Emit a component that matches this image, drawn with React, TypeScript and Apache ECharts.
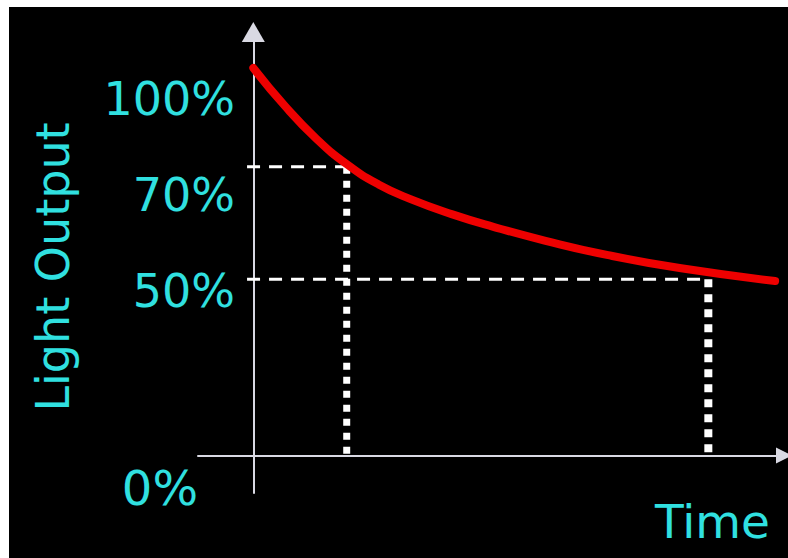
import React, { useEffect, useRef } from "react";
import * as echarts from "echarts";

// Schematic lumen-depreciation curve (units are schematic chart units)
const timeValues = [0, 6, 12, 18, 24, 30, 38, 46, 56, 68, 82, 100];
const outputValues = [91.5, 82.6, 74.9, 68.7, 64.0, 60.6, 57.0, 54.0, 50.7, 47.3, 44.2, 41.2];

// Y tick labels and where they sit on the schematic scale
const yTickValues = [84.2, 61.5, 38.8, -7.7];
const yTickLabels = ["100%", "70%", "50%", "0%"];

// L70 and L50 reference points
const markerTimes = [17.9, 87.2];
const markerLevels = [68.2, 41.6];
const guideStart = -1.2;

const xAxisName = "Time";
const yAxisName = "Light Output";

const CYAN = "#30e0e0";
const AXIS = "#d9d9e3";
const FONT = "DejaVu Sans";

export default function App() {
  const ref = useRef<HTMLDivElement>(null);

  useEffect(() => {
    if (!ref.current) return;
    const chart = echarts.init(ref.current, null, { renderer: "svg" });

    const curve = timeValues.map((t, i) => [t, outputValues[i]]);

    const guideSeries: any[] = [];
    markerTimes.forEach((t, i) => {
      const lvl = markerLevels[i];
      guideSeries.push({
        type: "line",
        data: [
          [guideStart, lvl],
          [t, lvl],
        ],
        symbol: "none",
        silent: true,
        z: 2,
        lineStyle: { color: "#ffffff", width: 3, type: [13, 9] },
      });
      guideSeries.push({
        type: "line",
        data: [
          [t, lvl],
          [t, 0],
        ],
        symbol: "none",
        silent: true,
        z: 2,
        lineStyle: { color: "#ffffff", width: 7 + i, type: [7 + i, 7], cap: "butt" },
      });
    });

    const option: any = {
      animation: false,
      backgroundColor: "#000000",
      grid: {
        left: 189,
        right: 4,
        top: 25,
        bottom: 65,
        containLabel: false,
        outerBoundsMode: "none",
      },
      xAxis: {
        type: "value",
        min: -10.6,
        max: 101.7,
        axisLine: {
          show: true,
          onZero: true,
          symbol: ["none", "triangle"],
          symbolSize: [16, 16],
          lineStyle: { color: AXIS, width: 2 },
        },
        axisTick: { show: false },
        axisLabel: { show: false },
        splitLine: { show: false },
        name: xAxisName,
        nameLocation: "end",
        nameGap: -129,
        nameTextStyle: {
          color: CYAN,
          fontSize: 47,
          fontFamily: FONT,
          verticalAlign: "top",
          padding: [42, 0, 0, 0],
        },
      },
      yAxis: {
        type: "value",
        min: -8.85,
        max: 100,
        axisLine: {
          show: true,
          onZero: true,
          symbol: ["none", "triangle"],
          symbolSize: [23, 20],
          lineStyle: { color: AXIS, width: 2 },
        },
        axisTick: { show: false },
        splitLine: { show: false },
        axisLabel: {
          show: true,
          customValues: yTickValues,
          margin: -37,
          color: CYAN,
          fontSize: 46,
          fontFamily: FONT,
          formatter: (v: number) => {
            let idx = 0;
            let best = Infinity;
            yTickValues.forEach((tv, i) => {
              const d = Math.abs(tv - v);
              if (d < best) {
                best = d;
                idx = i;
              }
            });
            const label = yTickLabels[idx];
            return idx === yTickLabels.length - 1 ? `{z|${label}}` : label;
          },
          rich: {
            z: {
              color: CYAN,
              fontSize: 48,
              fontFamily: FONT,
              padding: [0, 37, 0, 0],
            },
          },
        },
        name: yAxisName,
        nameLocation: "middle",
        nameRotate: 90,
        nameGap: 122,
        nameTextStyle: {
          color: CYAN,
          fontSize: 46,
          fontFamily: FONT,
          padding: [0, 9, 0, 0],
        },
      },
      series: [
        ...guideSeries,
        {
          type: "line",
          data: curve,
          smooth: 0.5,
          symbol: "none",
          silent: true,
          z: 5,
          lineStyle: { color: "#ee0000", width: 8, cap: "round" },
        },
      ],
    };

    chart.setOption(option);
    return () => chart.dispose();
  }, []);

  return (
    <div
      ref={ref}
      style={{ position: "absolute", left: 9, top: 7, width: 779, height: 551 }}
    />
  );
}
